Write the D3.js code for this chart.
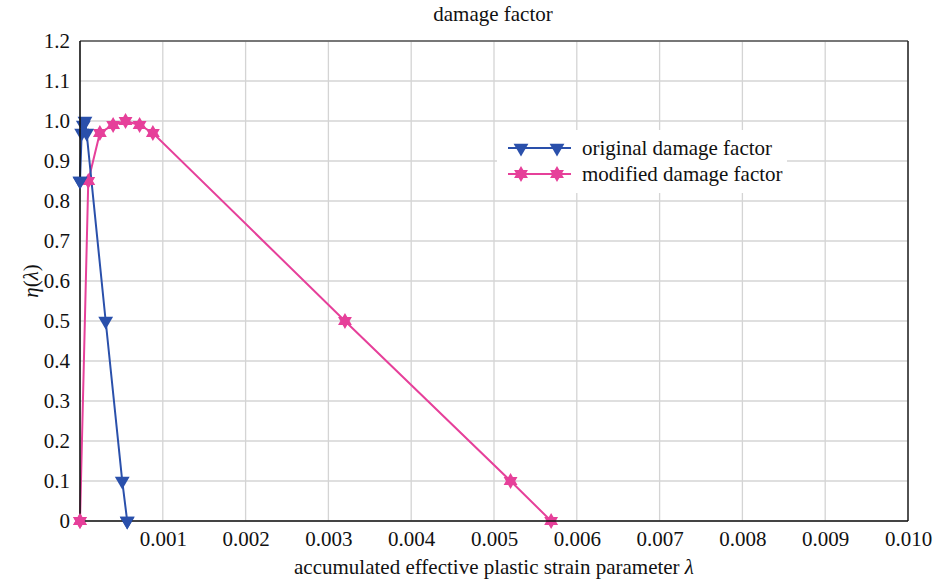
<!DOCTYPE html>
<html><head><meta charset="utf-8">
<script src="https://cdn.jsdelivr.net/npm/d3@7"></script>
</head><body style="margin:0">
<svg id="c" width="933" height="581" font-family="Liberation Serif"></svg>
<script>
const originalX = [0, 0.00002, 0.00004, 0.00006, 0.00008, 0.00031, 0.00051, 0.00057];
const originalY = [0.85, 0.97, 0.99, 1.0, 0.97, 0.5, 0.1, 0];
const modifiedX = [0, 0.0001, 0.00024, 0.0004, 0.00055, 0.00072, 0.00088, 0.0032, 0.0052, 0.00569];
const modifiedY = [0, 0.85, 0.97, 0.99, 1.0, 0.99, 0.97, 0.5, 0.1, 0];
const xTicks = [0.001,0.002,0.003,0.004,0.005,0.006,0.007,0.008,0.009,0.010];
const yTicks = [0,0.1,0.2,0.3,0.4,0.5,0.6,0.7,0.8,0.9,1.0,1.1,1.2];
const seriesNames = ["original damage factor","modified damage factor"];
const colors = ["#2a50ab","#e6409a"];
const FS = "21px";

const svg = d3.select("#c");
function setFont(sel){ sel.attr("font-family","Liberation Serif").style("font-family",'"Liberation Serif", monospace').style("font-size",FS).attr("fill","#111"); return sel; }
const L=80,R=908,T=41,B=521;
const x = d3.scaleLinear().domain([0,0.010]).range([L,R]);
const y = d3.scaleLinear().domain([0,1.2]).range([B,T]);

svg.append("g").selectAll("line").data(xTicks).join("line")
  .attr("x1",d=>x(d)).attr("x2",d=>x(d)).attr("y1",T).attr("y2",B)
  .attr("stroke","#d4d4d4").attr("stroke-width",1.3);
svg.append("g").selectAll("line").data(yTicks).join("line")
  .attr("x1",L).attr("x2",R).attr("y1",d=>y(d)).attr("y2",d=>y(d))
  .attr("stroke","#d4d4d4").attr("stroke-width",1.3);

svg.append("rect").attr("x",497).attr("y",130).attr("width",290).attr("height",63).attr("fill","#fff");

svg.append("line").attr("x1",L).attr("x2",R).attr("y1",T).attr("y2",T).attr("stroke","#555").attr("stroke-width",1.5);
svg.append("line").attr("x1",R).attr("x2",R).attr("y1",T).attr("y2",B).attr("stroke","#222").attr("stroke-width",1.5);

const xAxis = d3.axisBottom(x).tickValues(xTicks).tickFormat(d3.format(".3f")).tickSize(0).tickPadding(10);
const gx = svg.append("g").attr("transform",`translate(0,${B})`).call(xAxis);
gx.select(".domain").remove();
gx.attr("font-family","Liberation Serif").attr("font-size",21);
setFont(gx.selectAll("text"));
const yAxis = d3.axisLeft(y).tickValues(yTicks).tickFormat(d=>d===0?"0":d3.format(".1f")(d)).tickSize(0).tickPadding(10);
const gy = svg.append("g").attr("transform",`translate(${L},0)`).call(yAxis);
gy.select(".domain").remove();
gy.attr("font-family","Liberation Serif").attr("font-size",21);
setFont(gy.selectAll("text"));

const tri = d3.symbol().type(d3.symbolTriangle).size(95);
function hexagram(r){
  const p=[];
  for(let i=0;i<12;i++){const a=Math.PI/6*i - Math.PI/2; const rr = i%2===0? r : r*0.58; p.push([rr*Math.cos(a), rr*Math.sin(a)]);}
  return "M"+p.map(q=>q.join(",")).join("L")+"Z";
}
const line = d3.line().x(d=>x(d[0])).y(d=>y(d[1]));
const orig = originalX.map((v,i)=>[v,originalY[i]]);
const mod = modifiedX.map((v,i)=>[v,modifiedY[i]]);

svg.append("path").datum(mod).attr("d",line).attr("fill","none").attr("stroke",colors[1]).attr("stroke-width",2);
svg.append("path").datum(orig).attr("d",line).attr("fill","none").attr("stroke",colors[0]).attr("stroke-width",2);

svg.append("g").selectAll("path").data(mod).join("path")
  .attr("transform",d=>`translate(${x(d[0])},${y(d[1])})`).attr("d",hexagram(8)).attr("fill",colors[1]);
svg.append("g").selectAll("path").data(orig).join("path")
  .attr("transform",d=>`translate(${x(d[0])},${y(d[1])}) rotate(180)`).attr("d",tri).attr("fill",colors[0]);

svg.append("line").attr("x1",L).attr("x2",L).attr("y1",T).attr("y2",B).attr("stroke","#111").attr("stroke-width",1.6);
svg.append("line").attr("x1",L).attr("x2",R).attr("y1",B).attr("y2",B).attr("stroke","#111").attr("stroke-width",1.6);

svg.append("g").selectAll("path").data(mod.filter(d=>d[0]===0)).join("path")
  .attr("transform",d=>`translate(${x(d[0])},${y(d[1])})`).attr("d",hexagram(8)).attr("fill",colors[1]);
svg.append("g").selectAll("path").data(orig.filter(d=>d[1]===0||d[0]===0)).join("path")
  .attr("transform",d=>`translate(${x(d[0])},${y(d[1])}) rotate(180)`).attr("d",tri).attr("fill",colors[0]);

const lg = svg.append("g");
[0,1].forEach(i=>{
  const yy = 148 + i*26;
  lg.append("line").attr("x1",508).attr("x2",571).attr("y1",yy).attr("y2",yy).attr("stroke",colors[i]).attr("stroke-width",2);
  [521,557].forEach(mx=>{
    if(i===0) lg.append("path").attr("transform",`translate(${mx},${yy}) rotate(180)`).attr("d",tri).attr("fill",colors[0]);
    else lg.append("path").attr("transform",`translate(${mx},${yy})`).attr("d",hexagram(8)).attr("fill",colors[1]);
  });
  setFont(lg.append("text").attr("x",582).attr("y",yy+7)).text(seriesNames[i]);
});

setFont(svg.append("text").attr("x",493).attr("y",21).attr("text-anchor","middle")).text("damage factor");
setFont(svg.append("text").attr("x",494).attr("y",574).attr("text-anchor","middle"))
  .html('accumulated effective plastic strain parameter <tspan font-style="italic">λ</tspan>');
setFont(svg.append("text").attr("transform","translate(38,281) rotate(-90)").attr("text-anchor","middle"))
  .html('<tspan font-style="italic">η</tspan>(<tspan font-style="italic">λ</tspan>)');
</script>
</body></html>
